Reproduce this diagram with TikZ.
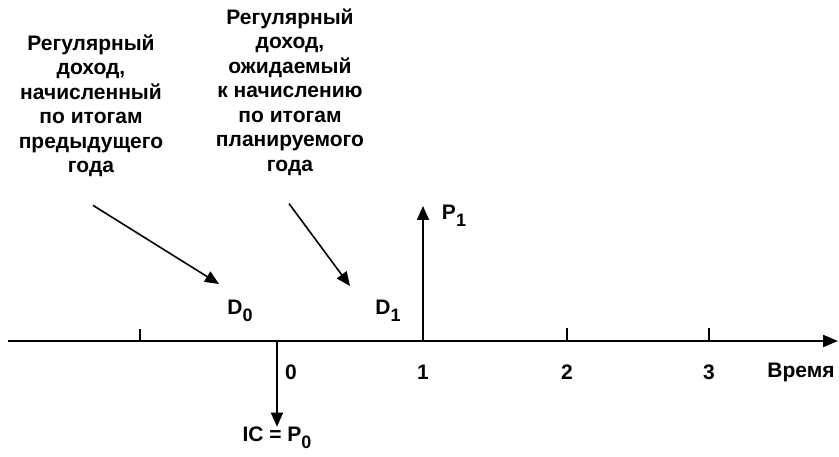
\documentclass[tikz,border=0pt]{standalone}
\usepackage{fontspec}
\setmainfont{Liberation Sans}
\usetikzlibrary{arrows.meta}
\tikzset{
  txt/.style={align=center, font=\bfseries\fontsize{21}{24.5}\selectfont, inner sep=0pt},
  lbl/.style={font=\bfseries\fontsize{21}{26}\selectfont, inner sep=0pt},
  ptr/.style={line width=1.6pt, -{Triangle[length=14pt,width=12pt]}},
  axisline/.style={line width=2.4pt, -{Triangle[length=15pt,width=12pt]}},
  tick/.style={line width=1.8pt},
}
\newcommand{\sbs}[1]{\raisebox{-0.35em}{\fontsize{18}{20}\selectfont #1}}
\begin{document}
\begin{tikzpicture}[x=1pt,y=-1pt]
\useasboundingbox (0,0) rectangle (839,457);
% text blocks
\node[txt] (t1) at (91,106) {Регулярный\\доход,\\начисленный\\по итогам\\предыдущего\\года};
\node[txt] (t2) at (290,92) {Регулярный\\доход,\\ожидаемый\\к начислению\\по итогам\\планируемого\\года};
% axis
\coordinate (a0) at (8,341);
\coordinate (a1) at (838,341);
\draw[axisline] (a0) -- (a1);
% ticks
\coordinate (k1) at (140,341); \coordinate (k1t) at (140,329);
\coordinate (k2) at (567,341); \coordinate (k2t) at (567,328);
\coordinate (k3) at (709,341); \coordinate (k3t) at (709,328);
\draw[tick] (k1) -- (k1t);
\draw[tick] (k2) -- (k2t);
\draw[tick] (k3) -- (k3t);
% labels
\node[lbl] (n0) at (291,372) {0};
\node[lbl] (n1) at (423,372) {1};
\node[lbl] (n2) at (567,372) {2};
\node[lbl] (n3) at (709,372) {3};
\node[lbl] (tm) at (801,372) {Время};
\node[lbl] (d0) at (240,311) {D\sbs{0}};
\node[lbl] (d1) at (388,311) {D\sbs{1}};
\node[lbl] (p1) at (454,216) {P\sbs{1}};
\node[lbl] (ic) at (277,438) {IC = P\sbs{0}};
% vertical arrows
\coordinate (z) at (277,341);
\coordinate (o) at (423,341);
\draw[ptr] (z) -- (ic.north);
\coordinate (ptop) at (423,206);
\draw[ptr] (o) -- (ptop);
% pointer arrows
\coordinate (d0tip) at (219,284);
\coordinate (d1tip) at (350,286);
\draw[ptr] (t1.south) ++(2,28) -- (d0tip);
\draw[ptr] (t2.south) ++(-1,28) -- (d1tip);
\end{tikzpicture}
\end{document}
